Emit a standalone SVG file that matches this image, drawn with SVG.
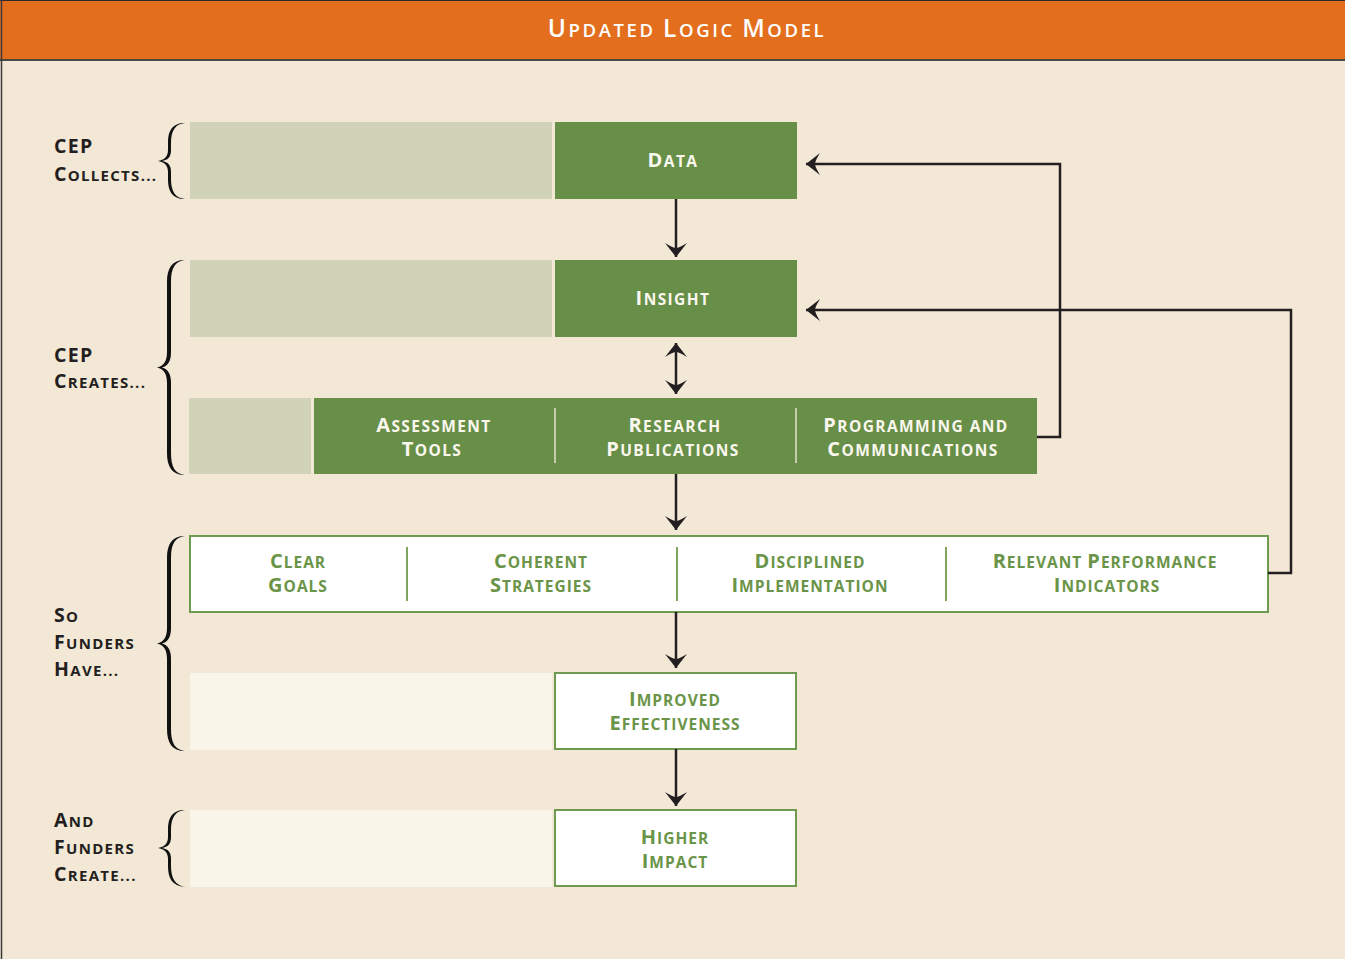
<svg xmlns="http://www.w3.org/2000/svg" width="1345" height="959" viewBox="0 0 1345 959">
<defs>
<style>
text{font-family:"Open Sans","Noto Sans",sans-serif;font-weight:700;}
.ttl{fill:#ffffff;text-anchor:middle;letter-spacing:2.6px;font-weight:600;}
.ttl .b{font-size:24.5px}.ttl .s{font-size:18.5px}
.lab{fill:#231F20;letter-spacing:1.3px;}
.lab .b{font-size:19.5px}.lab .s{font-size:15px}
.wt{fill:#FBF7EE;text-anchor:middle;letter-spacing:1.4px;}
.gt{fill:#6A9447;text-anchor:middle;letter-spacing:1.0px;}
.b{font-size:20px}.s{font-size:15.5px}
.dg{fill:#678F47;}
.pg{fill:#D1D3B8;}
.pc{fill:#FAF5E9;}
.wb{fill:#ffffff;stroke:#6D9A4E;stroke-width:2;}
.dvw{stroke:#E6E2CC;stroke-width:1.5;}
.dvg{stroke:#7FA65E;stroke-width:2;}
.brace{fill:#111111;}
.con{fill:none;stroke:#231F20;stroke-width:2.5;}
</style>
<marker id="ah" viewBox="-15 -12 16 24" refX="0" refY="0" markerWidth="16" markerHeight="24" markerUnits="userSpaceOnUse" orient="auto-start-reverse">
<path d="M0,0 L-14,-11 Q-9,-3 -9,0 Q-9,3 -14,11 Z" fill="#231F20"/>
</marker>
</defs>
<rect x="0" y="0" width="1345" height="959" fill="#F3E7D6"/>
<g id="title">
<rect x="0" y="0" width="1345" height="60" fill="#E36F1E"/>
<line x1="0" y1="60" x2="1345" y2="60" stroke="#4A4744" stroke-width="2"/>
<line x1="0" y1="0.5" x2="1345" y2="0.5" stroke="#2a2a2a" stroke-width="1"/>
<text class="ttl" x="687" y="37"><tspan class="b">U</tspan><tspan class="s">PDATED </tspan><tspan class="b">L</tspan><tspan class="s">OGIC </tspan><tspan class="b">M</tspan><tspan class="s">ODEL</tspan></text>
</g>
<line x1="1.5" y1="0" x2="1.5" y2="959" stroke="#3a3a3a" stroke-width="1.5"/>

<g id="labels">
<text class="lab"><tspan x="54" y="153" class="b">CEP</tspan><tspan x="54" y="181" class="b">C</tspan><tspan class="s">OLLECTS...</tspan></text>
<text class="lab"><tspan x="54" y="362" class="b">CEP</tspan><tspan x="54" y="388" class="b">C</tspan><tspan class="s">REATES...</tspan></text>
<text class="lab"><tspan x="54" y="622" class="b">S</tspan><tspan class="s">O</tspan><tspan x="54" y="649" class="b">F</tspan><tspan class="s">UNDERS</tspan><tspan x="54" y="676" class="b">H</tspan><tspan class="s">AVE...</tspan></text>
<text class="lab"><tspan x="54" y="827" class="b">A</tspan><tspan class="s">ND</tspan><tspan x="54" y="854" class="b">F</tspan><tspan class="s">UNDERS</tspan><tspan x="54" y="881" class="b">C</tspan><tspan class="s">REATE...</tspan></text>
</g>

<g id="braces">
<path class="brace" d="M185,123 C172,123 168,131 168,143 L168,150 C168,157 164,160 158,161 C164,162 168,165 168,172 L168,179 C168,191 172,199 185,199 C175,198 171,191 171,179 L171,172 C171,165 168,162 162,161 C168,160 171,157 171,150 L171,143 C171,131 175,124 185,123 Z"/>
<path class="brace" d="M185,260 C172,260 167,268 167,282 L167,352 C167,361 164,366 157,367.5 C164,369 167,374 167,383 L167,453 C167,467 172,475 185,475 C175,474 171,467 171,453 L171,383 C171,374 168,369 162,367.5 C168,366 171,361 171,352 L171,282 C171,268 175,261 185,260 Z"/>
<path class="brace" d="M185,536 C172,536 167,544 167,558 L167,628 C167,637 164,642 157,643.5 C164,645 167,650 167,659 L167,729 C167,743 172,751 185,751 C175,750 171,743 171,729 L171,659 C171,650 168,645 162,643.5 C168,642 171,637 171,628 L171,558 C171,544 175,537 185,536 Z"/>
<path class="brace" d="M185,810 C172,810 168,818 168,830 L168,837 C168,844 164,847 158,848 C164,849 168,852 168,859 L168,866 C168,878 172,886 185,887 C175,885 171,878 171,866 L171,859 C171,852 168,849 162,848 C168,847 171,844 171,837 L171,830 C171,818 175,811 185,810 Z"/>
</g>

<g id="row-data">
<rect class="pg" x="190" y="122" width="362" height="77"/>
<rect class="dg" x="555" y="122" width="242" height="77"/>
<text class="wt" x="673" y="167"><tspan class="b">D</tspan><tspan class="s">ATA</tspan></text>
</g>
<g id="row-insight">
<rect class="pg" x="190" y="260" width="362" height="77"/>
<rect class="dg" x="555" y="260" width="242" height="77"/>
<text class="wt" x="673" y="305"><tspan class="b">I</tspan><tspan class="s">NSIGHT</tspan></text>
</g>
<g id="row-outputs">
<rect class="pg" x="189" y="398" width="122" height="76"/>
<rect class="dg" x="314" y="398" width="723" height="76"/>
<line class="dvw" x1="555" y1="408" x2="555" y2="463"/>
<line class="dvw" x1="796" y1="408" x2="796" y2="463"/>
<text class="wt"><tspan x="434" y="432" class="b">A</tspan><tspan class="s">SSESSMENT</tspan><tspan x="432" y="456" class="b">T</tspan><tspan class="s">OOLS</tspan></text>
<text class="wt"><tspan x="675" y="432" class="b">R</tspan><tspan class="s">ESEARCH</tspan><tspan x="673" y="456" class="b">P</tspan><tspan class="s">UBLICATIONS</tspan></text>
<text class="wt"><tspan x="916" y="432" class="b">P</tspan><tspan class="s">ROGRAMMING AND</tspan><tspan x="913" y="456" class="b">C</tspan><tspan class="s">OMMUNICATIONS</tspan></text>
</g>
<g id="row-funders">
<rect class="wb" x="190" y="536" width="1078" height="76"/>
<line class="dvg" x1="407" y1="547" x2="407" y2="601"/>
<line class="dvg" x1="677" y1="547" x2="677" y2="601"/>
<line class="dvg" x1="946" y1="547" x2="946" y2="601"/>
<text class="gt"><tspan x="298" y="568" class="b">C</tspan><tspan class="s">LEAR</tspan><tspan x="298" y="592" class="b">G</tspan><tspan class="s">OALS</tspan></text>
<text class="gt"><tspan x="541" y="568" class="b">C</tspan><tspan class="s">OHERENT</tspan><tspan x="541" y="592" class="b">S</tspan><tspan class="s">TRATEGIES</tspan></text>
<text class="gt"><tspan x="810" y="568" class="b">D</tspan><tspan class="s">ISCIPLINED</tspan><tspan x="810" y="592" class="b">I</tspan><tspan class="s">MPLEMENTATION</tspan></text>
<text class="gt"><tspan x="1105" y="568" class="b">R</tspan><tspan class="s">ELEVANT </tspan><tspan class="b">P</tspan><tspan class="s">ERFORMANCE</tspan><tspan x="1107" y="592" class="b">I</tspan><tspan class="s">NDICATORS</tspan></text>
</g>
<g id="row-effectiveness">
<rect class="pc" x="190" y="673" width="362" height="77"/>
<rect class="wb" x="555" y="673" width="241" height="76"/>
<text class="gt"><tspan x="675" y="706" class="b">I</tspan><tspan class="s">MPROVED</tspan><tspan x="675" y="730" class="b">E</tspan><tspan class="s">FFECTIVENESS</tspan></text>
</g>
<g id="row-impact">
<rect class="pc" x="190" y="810" width="362" height="77"/>
<rect class="wb" x="555" y="810" width="241" height="76"/>
<text class="gt"><tspan x="675" y="844" class="b">H</tspan><tspan class="s">IGHER</tspan><tspan x="675" y="868" class="b">I</tspan><tspan class="s">MPACT</tspan></text>
</g>

<g id="connectors">
<path class="con" d="M676,199 L676,257" marker-end="url(#ah)"/>
<path class="con" d="M676,343 L676,394" marker-start="url(#ah)" marker-end="url(#ah)"/>
<path class="con" d="M676,474 L676,530" marker-end="url(#ah)"/>
<path class="con" d="M676,612 L676,668" marker-end="url(#ah)"/>
<path class="con" d="M676,749 L676,806" marker-end="url(#ah)"/>
<path class="con" d="M1037,437 H1060 V164 H806" marker-end="url(#ah)"/>
<path class="con" d="M1268,573 H1291 V310 H806" marker-end="url(#ah)"/>
</g>
</svg>
